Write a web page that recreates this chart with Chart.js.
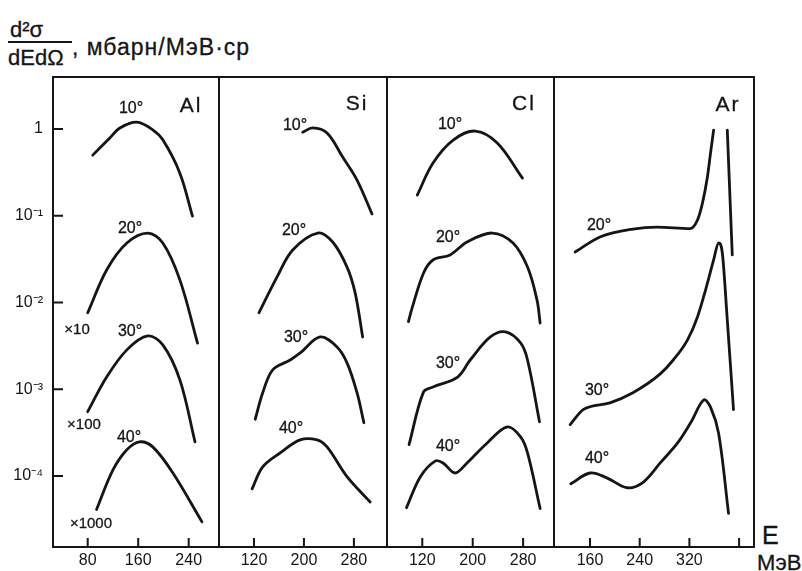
<!DOCTYPE html>
<html lang="ru">
<head>
<meta charset="utf-8">
<title>d2σ/dEdΩ</title>
<script src="https://cdn.jsdelivr.net/npm/chart.js@4.4.1/dist/chart.umd.min.js"></script>
<style>
  body { margin: 0; background: #fff; }
  #wrap { position: relative; width: 802px; height: 571px; overflow: hidden; background: #fff;
          font-family: "Liberation Sans", Arial, sans-serif; color: #151515; }
  #wrap canvas { position: absolute; }
  .t { position: absolute; white-space: nowrap; line-height: 1; -webkit-text-stroke: 0.3px #151515; }
  .c { position: absolute; white-space: nowrap; line-height: 1; transform: translate(-50%, -50%);
       -webkit-text-stroke: 0.3px #151515; }
  .el { font-size: 21px; letter-spacing: 2px; }
  .ang { font-size: 16px; }
  .mul { font-size: 15px; }
</style>
</head>
<body>
<div id="wrap">
  <!-- axis title -->
  <div class="t" style="left:10px; top:19px; font-size:22px">d²σ</div>
  <div style="position:absolute; left:8px; top:41px; width:64px; height:2px; background:#151515"></div>
  <div class="t" style="left:8px; top:47px; font-size:22px">dEdΩ</div>
  <div class="t" style="left:72px; top:36px; font-size:23px; letter-spacing:1px">, мбарн/МэВ·ср</div>

  <canvas id="al" width="222" height="497" style="left:0; top:74px"></canvas>
  <canvas id="si" width="174" height="497" style="left:216px; top:74px"></canvas>
  <canvas id="cl" width="173" height="497" style="left:384px; top:74px"></canvas>
  <canvas id="ar" width="206" height="497" style="left:551px; top:74px"></canvas>

  <!-- nuclei -->
  <div class="c el" style="left:191px; top:104px">Al</div>
  <div class="c el" style="left:357px; top:102px">Si</div>
  <div class="c el" style="left:524px; top:102px">Cl</div>
  <div class="c el" style="left:728px; top:103px">Ar</div>

  <!-- scattering angles -->
  <div class="c ang" style="left:131px; top:108px">10°</div>
  <div class="c ang" style="left:130px; top:228px">20°</div>
  <div class="c ang" style="left:130px; top:331px">30°</div>
  <div class="c ang" style="left:129px; top:437px">40°</div>
  <div class="c ang" style="left:295px; top:125px">10°</div>
  <div class="c ang" style="left:294px; top:230px">20°</div>
  <div class="c ang" style="left:296px; top:337px">30°</div>
  <div class="c ang" style="left:291px; top:428px">40°</div>
  <div class="c ang" style="left:450px; top:124px">10°</div>
  <div class="c ang" style="left:448px; top:237px">20°</div>
  <div class="c ang" style="left:448px; top:363px">30°</div>
  <div class="c ang" style="left:448px; top:446px">40°</div>
  <div class="c ang" style="left:599px; top:225px">20°</div>
  <div class="c ang" style="left:597px; top:390px">30°</div>
  <div class="c ang" style="left:597px; top:458px">40°</div>

  <!-- scale factors -->
  <div class="c mul" style="left:77px; top:328px">×10</div>
  <div class="c mul" style="left:84px; top:423px">×100</div>
  <div class="c mul" style="left:91px; top:522px">×1000</div>

  <div class="t" style="left:762px; top:523px; font-size:25px">E</div>
  <div class="t" style="left:757px; top:552px; font-size:22px">МэВ</div>
</div>

<script>
// energy (MeV) and cross section (mb/MeV·sr), one pair per curve
const al10E = [88, 115, 131, 158, 183, 199, 226, 246];
const al10V = [0.50, 0.79, 1.03, 1.20, 0.98, 0.75, 0.31, 0.099];
const al20E = [80, 110, 142, 175, 199, 226, 254];
const al20V = [0.0076, 0.0237, 0.0485, 0.0632, 0.0485, 0.0182, 0.0034];
const al30E = [80, 110, 142, 175, 199, 226, 250];
const al30V = [5.5e-4, 1.38e-3, 2.84e-3, 4.11e-3, 3.24e-3, 1.28e-3, 2.47e-4];
const al40E = [94, 120, 142, 162, 183, 215, 261];
const al40V = [4.1e-5, 1.17e-4, 2.0e-4, 2.47e-4, 2.16e-4, 1.08e-4, 2.95e-5];

const si10E = [198, 214, 237, 262, 285, 309];
const si10V = [0.92, 1.03, 0.90, 0.475, 0.258, 0.105];
const si20E = [128, 157, 182, 222, 246, 269, 282, 294];
const si20V = [0.0076, 0.0197, 0.0403, 0.0632, 0.0498, 0.0256, 0.0129, 0.0040];
const si30E = [122, 134, 150, 178, 194, 226, 253, 269, 285, 296];
const si30V = [4.5e-4, 9.1e-4, 1.67e-3, 2.17e-3, 2.62e-3, 4.0e-3, 3.07e-3, 2.01e-3, 9.1e-4, 4.1e-4];
const si40E = [117, 134, 162, 194, 221, 237, 269, 306];
const si40V = [7.1e-5, 1.27e-4, 1.84e-4, 2.6e-4, 2.6e-4, 2.16e-4, 9.8e-5, 5.0e-5];

const cl10E = [112, 137, 169, 204, 239, 279];
const cl10V = [0.173, 0.405, 0.746, 0.948, 0.69, 0.272];
const cl20E = [98, 104, 122, 137, 164, 191, 231, 264, 287, 302, 307];
const cl20V = [0.006, 0.0087, 0.0219, 0.0309, 0.0353, 0.0498, 0.0632, 0.0485, 0.0256, 0.0107, 0.0058];
const cl30E = [99, 122, 137, 176, 196, 228, 252, 276, 287, 306];
const cl30V = [2.3e-4, 9.3e-4, 1.06e-3, 1.38e-3, 2.17e-3, 4.0e-3, 4.57e-3, 3.41e-3, 2.17e-3, 4.2e-4];
const cl40E = [95, 117, 141, 153, 172, 191, 223, 255, 276, 287, 307];
const cl40V = [4.3e-5, 9.8e-5, 1.49e-4, 1.41e-4, 1.08e-4, 1.41e-4, 2.4e-4, 3.67e-4, 2.82e-4, 1.84e-4, 4.2e-5];

// 20° elastic peak runs off the top, hence the break
const ar20E = [136, 176, 229, 268, 321, 333, 341, 349, 354, 359, 370, 381, 389];
const ar20V = [0.0382, 0.0569, 0.0703, 0.0741, 0.071, 0.0893, 0.140, 0.280, 0.528, 0.973, null, 0.973, 0.0353];
const ar30E = [128, 149, 192, 229, 273, 294, 317, 333, 346, 359, 367, 373, 381, 391];
const ar30V = [3.9e-4, 5.8e-4, 6.95e-4, 9.1e-4, 1.5e-3, 2.17e-3, 3.7e-3, 6.8e-3, 0.0139, 0.0309, 0.0485, 0.0372, 6.3e-3, 5.8e-4];
const ar40E = [129, 160, 187, 220, 246, 273, 301, 322, 343, 354, 367, 383];
const ar40V = [8.1e-5, 1.08e-4, 9.5e-5, 7.3e-5, 8.5e-5, 1.41e-4, 2.4e-4, 4.1e-4, 7.5e-4, 6.2e-4, 3.1e-4, 3.7e-5];

// axis ticks
const yTicks = [0.0001, 0.001, 0.01, 0.1, 1];
const yTickLabels = ['10⁻⁴', '10⁻³', '10⁻²', '10⁻¹', '1'];
const alTicks = [80, 160, 240];
const siTicks = [120, 200, 280];
const clTicks = [120, 200, 280];
const arTicks = [160, 240, 320, 400];
const arTickLabels = ['160', '240', '320', ''];

const INK = '#151515';
const Y_MIN = Math.pow(10, -4.82);
const Y_MAX = Math.pow(10, 0.6);

// panel box with inward tick marks
const frame = {
    id: 'frame',
    afterDatasetsDraw(chart, args, opts) {
        const { ctx, chartArea: a, scales } = chart;
        ctx.save();
        ctx.strokeStyle = INK;
        ctx.lineWidth = 2;
        ctx.strokeRect(a.left, a.top, a.right - a.left, a.bottom - a.top);
        ctx.beginPath();
        scales.x.ticks.forEach(t => {
            const x = scales.x.getPixelForValue(t.value);
            ctx.moveTo(x, a.bottom);
            ctx.lineTo(x, a.bottom - 9);
        });
        if (opts.yTicks) {
            scales.y.ticks.forEach(t => {
                const y = scales.y.getPixelForValue(t.value);
                ctx.moveTo(a.left, y);
                ctx.lineTo(a.left + 10, y);
            });
        }
        ctx.stroke();
        ctx.restore();
    }
};

// smooth spline for the broad humps, monotone for the sharp argon peaks
function curve(E, V, sharp) {
    return {
        data: E.map((x, i) => ({ x, y: V[i] })),
        borderColor: INK,
        borderWidth: 2.8,
        borderCapStyle: 'round',
        pointRadius: 0,
        fill: false,
        spanGaps: false,
        tension: sharp ? 0.4 : 0.35,
        cubicInterpolationMode: sharp ? 'monotone' : 'default'
    };
}

// fixed axis sizes so the four panels line up edge to edge
function fixSize(s, w, h) {
    if (w !== null) s.width = w;
    if (h !== null) s.height = h;
    s.paddingTop = s.paddingBottom = s.paddingLeft = s.paddingRight = 0;
}

function makePanel(id, curves, xMin, xMax, ticks, labels, withY) {
    const tickFont = { family: '"Liberation Sans", Arial, sans-serif', size: 16 };
    new Chart(document.getElementById(id), {
        type: 'line',
        data: { datasets: curves },
        plugins: [frame],
        options: {
            responsive: false,
            animation: false,
            devicePixelRatio: 1,
            layout: { padding: { top: 3, right: 3, bottom: 0, left: withY ? 0 : 3 } },
            plugins: {
                legend: { display: false },
                tooltip: { enabled: false },
                frame: { yTicks: withY }
            },
            scales: {
                x: {
                    type: 'linear',
                    min: xMin,
                    max: xMax,
                    grid: { display: false, drawTicks: false },
                    border: { display: false },
                    afterBuildTicks: s => { s.ticks = ticks.map(v => ({ value: v })); },
                    afterFit: s => fixSize(s, null, 24),
                    ticks: {
                        autoSkip: false,
                        maxRotation: 0,
                        padding: 4,
                        color: INK,
                        font: tickFont,
                        callback: (v, i) => labels[i]
                    }
                },
                y: {
                    type: 'logarithmic',
                    display: withY,
                    min: Y_MIN,
                    max: Y_MAX,
                    grid: { display: false, drawTicks: false },
                    border: { display: false },
                    afterBuildTicks: s => { s.ticks = yTicks.map(v => ({ value: v })); },
                    afterFit: s => fixSize(s, withY ? 53 : 0, null),
                    ticks: {
                        autoSkip: false,
                        padding: 10,
                        color: INK,
                        font: tickFont,
                        callback: (v, i) => yTickLabels[i]
                    }
                }
            }
        }
    });
}

makePanel('al', [curve(al10E, al10V), curve(al20E, al20V), curve(al30E, al30V), curve(al40E, al40V)],
    25, 288, alTicks, alTicks.map(String), true);
makePanel('si', [curve(si10E, si10V), curve(si20E, si20V), curve(si30E, si30V), curve(si40E, si40V)],
    64, 333, siTicks, siTicks.map(String), false);
makePanel('cl', [curve(cl10E, cl10V), curve(cl20E, cl20V), curve(cl30E, cl30V), curve(cl40E, cl40V)],
    64, 329, clTicks, clTicks.map(String), false);
makePanel('ar', [curve(ar20E, ar20V, true), curve(ar30E, ar30V, true), curve(ar40E, ar40V)],
    102, 424, arTicks, arTickLabels, false);
</script>
</body>
</html>
